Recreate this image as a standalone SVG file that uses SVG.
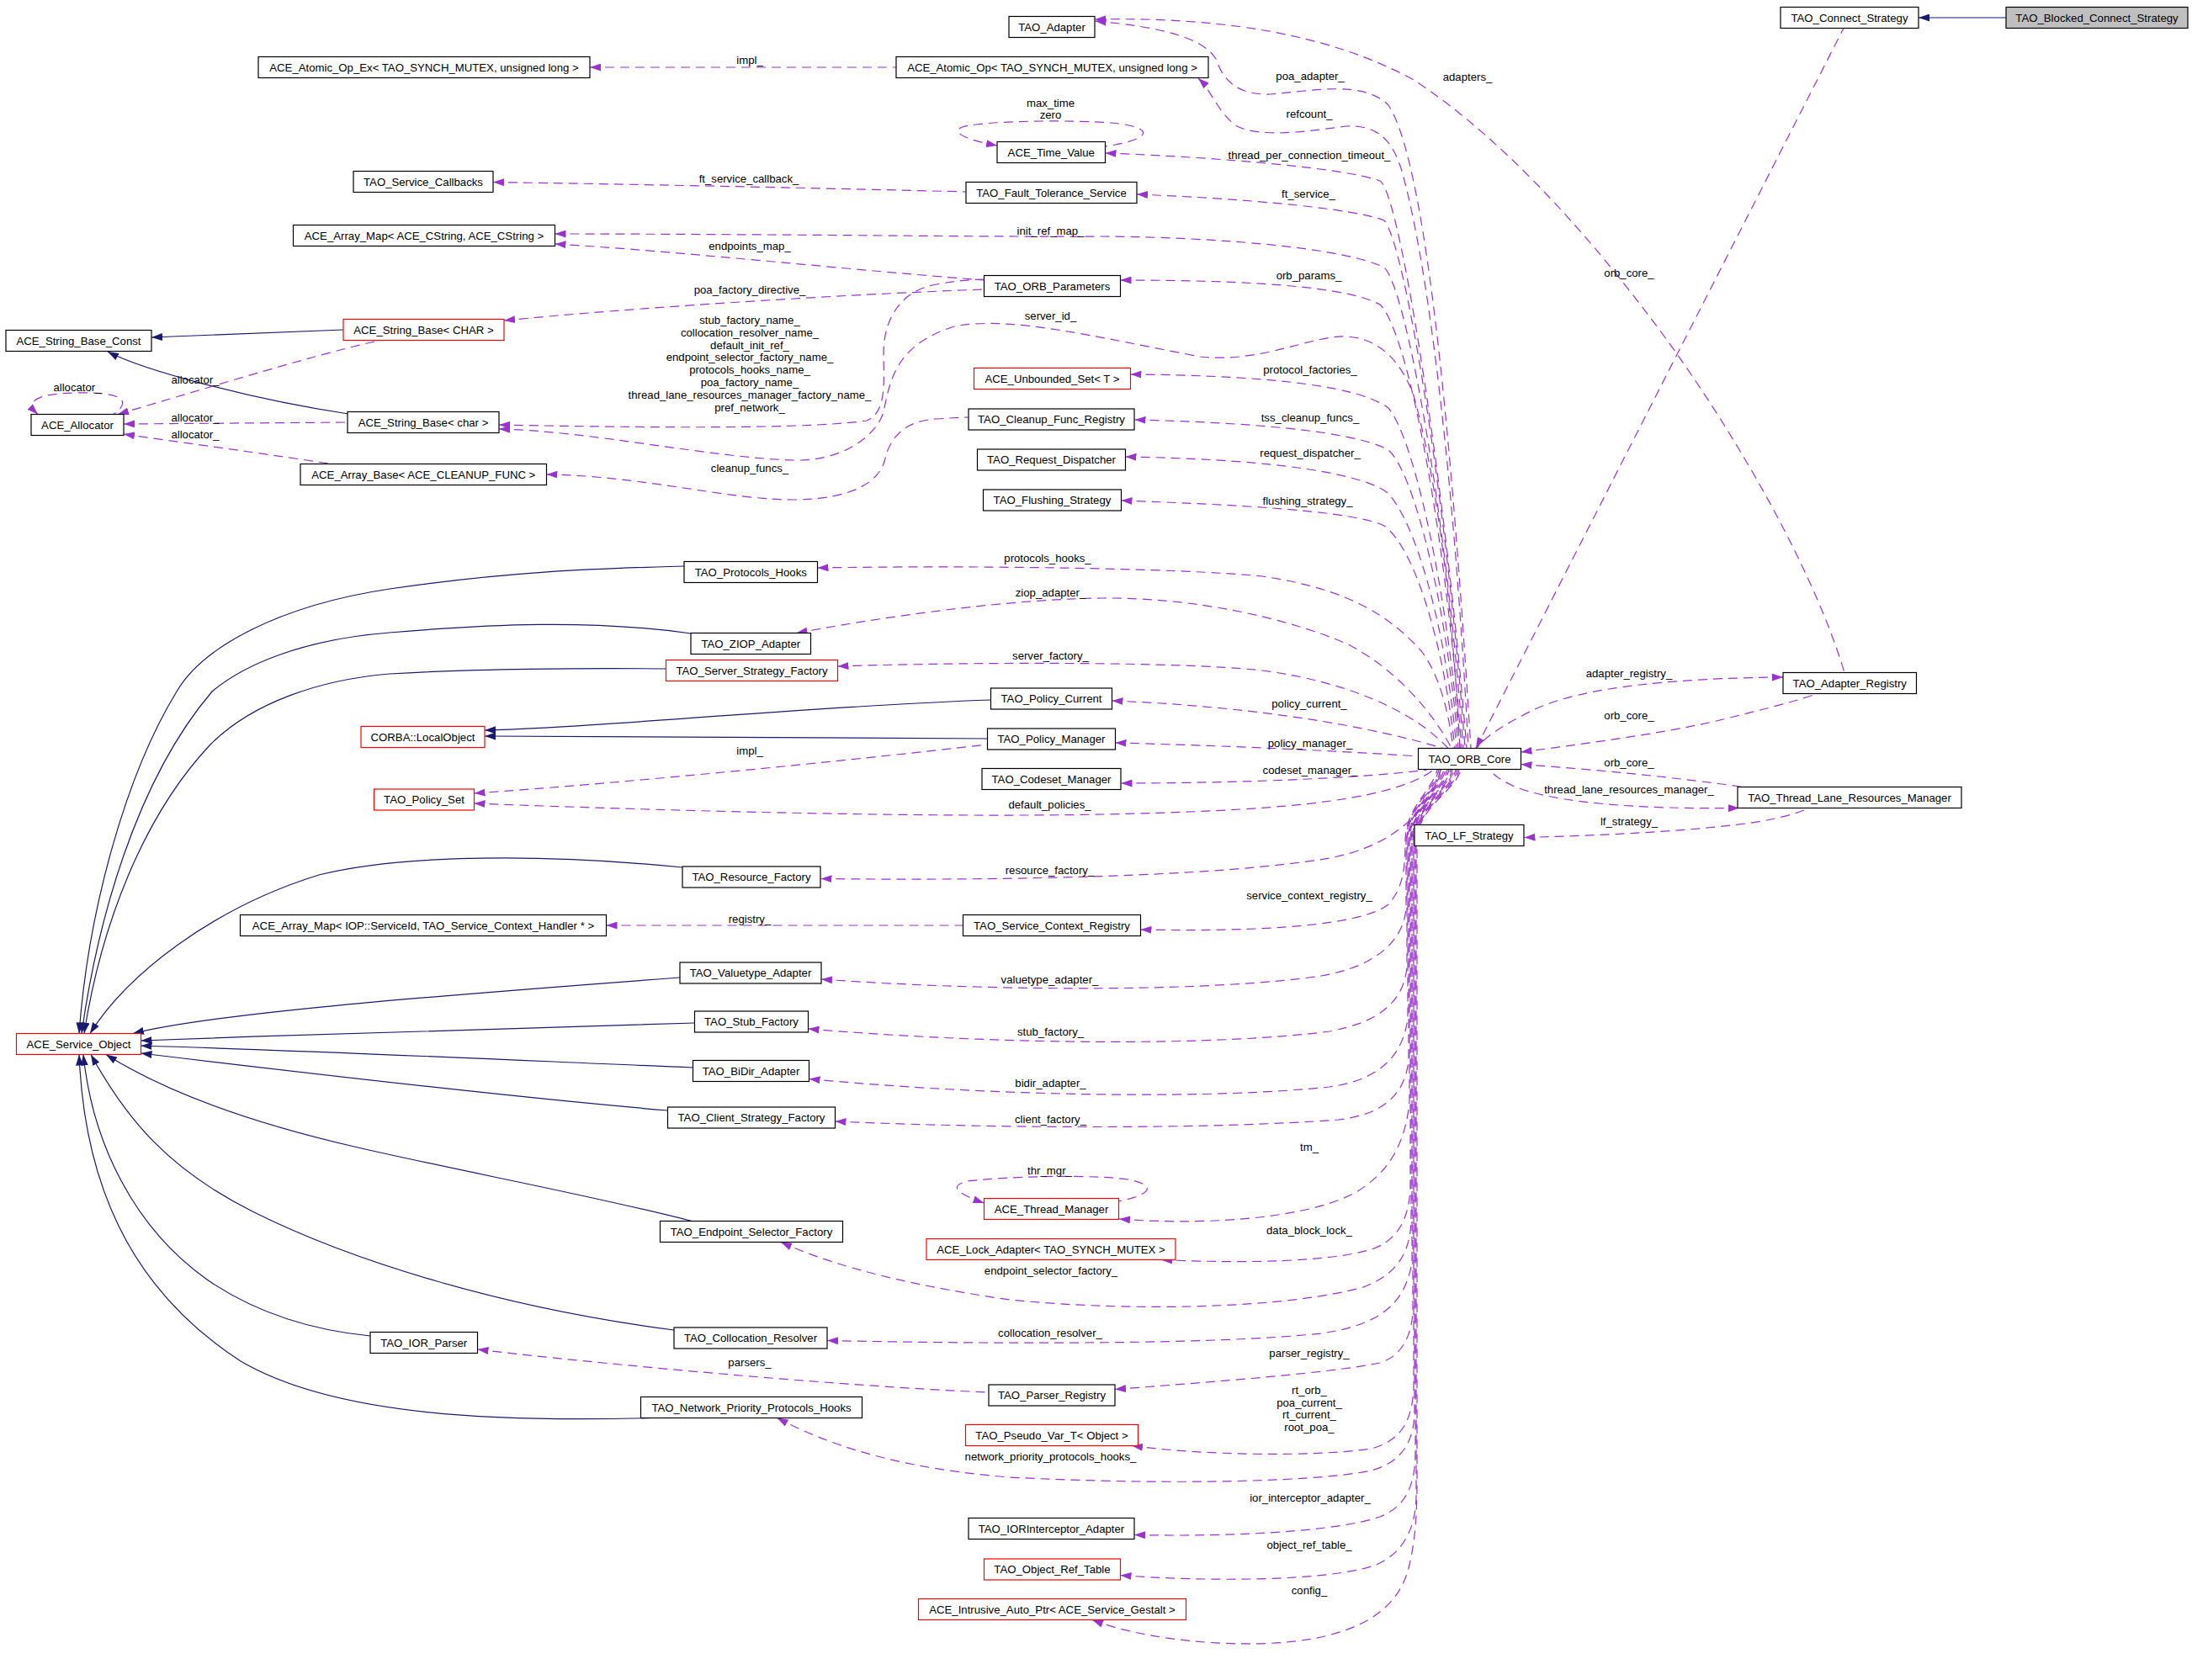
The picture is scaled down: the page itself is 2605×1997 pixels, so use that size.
<svg xmlns="http://www.w3.org/2000/svg" width="2605" height="1997" viewBox="0 0 2605 1997">
<style>
text{font-family:"Liberation Sans",Arial,sans-serif;font-size:13.2px;fill:#000;text-anchor:middle}
.b{fill:#fff;stroke:#000;stroke-width:1.2}
.rd{fill:#fff;stroke:#ff0000;stroke-width:1.2}
.gr{fill:#bfbfbf;stroke:#000;stroke-width:1.2}
.s{fill:none;stroke:#191970;stroke-width:1.2;marker-start:url(#an)}
.d{fill:none;stroke:#9a32cd;stroke-width:1.2;stroke-dasharray:11 7;marker-start:url(#ap)}
</style>
<defs>
<marker id="an" viewBox="0 0 13 9" refX="13" refY="4.5" markerWidth="13" markerHeight="9" markerUnits="userSpaceOnUse" orient="auto-start-reverse"><path d="M0,0 L13,4.5 L0,9 z" fill="#191970"/></marker>
<marker id="ap" viewBox="0 0 13 9" refX="13" refY="4.5" markerWidth="13" markerHeight="9" markerUnits="userSpaceOnUse" orient="auto-start-reverse"><path d="M0,0 L13,4.5 L0,9 z" fill="#9a32cd"/></marker>
</defs>
<rect width="2605" height="1997" fill="#fff"/>
<g id="connectors">
<path class="s" d="M2280,21 L2384,21"/>
<path class="s" d="M180,401 Q300,396 408,392"/>
<path class="s" d="M128,418 C170,440 300,475 414,492"/>
<path class="s" d="M576,868 C700,866 950,840 1177.5,832"/>
<path class="s" d="M576,875 L1173.5,878"/>
<path class="s" d="M94,1228.5 C105,1080 150,920 210,822 C240,770 330,720 463,700 C600,680 700,676 813,673"/>
<path class="s" d="M97,1228.5 C115,1100 160,930 252,822 C290,790 360,760 463,752 C580,742 700,736 821,753"/>
<path class="s" d="M100,1228.5 C120,1100 170,970 250,885 C300,835 380,808 463,801 C560,795 700,794 791.5,795"/>
<path class="s" d="M107,1228.5 C150,1160 250,1080 379,1040 C480,1015 650,1015 811,1031"/>
<path class="s" d="M158,1228.5 C250,1205 500,1185 808,1162"/>
<path class="s" d="M167.5,1237 C400,1228 650,1222 825.5,1216"/>
<path class="s" d="M167.5,1243 C400,1250 650,1262 823.5,1269"/>
<path class="s" d="M167.5,1252 C400,1280 650,1308 793.5,1320"/>
<path class="s" d="M126,1253.5 C200,1300 300,1335 421,1363 C550,1393 700,1420 822,1451.5"/>
<path class="s" d="M108,1253.5 C150,1330 200,1390 300,1440 C420,1500 600,1555 801,1581"/>
<path class="s" d="M99,1253.5 C110,1360 160,1460 246,1521 C310,1565 380,1582 440,1588"/>
<path class="s" d="M94,1253.5 C100,1400 150,1530 286,1618 C400,1685 600,1690 774,1685.5"/>

<path class="d" d="M701,80 L1065,80"/>
<path class="d" d="M586,216.5 C750,219 950,223 1148,228"/>
<path class="d" d="M659.5,290 C800,298 1000,320 1169.5,333"/>
<path class="d" d="M659.5,278 C900,278 1200,282 1310,281 C1450,282 1600,295 1645,318 C1670,340 1718,600 1739,889.5"/>
<path class="d" d="M599,381 C750,366 1000,350 1169.5,344"/>
<path class="d" d="M593,505 C700,507 950,512 1030,500 C1055,490 1050,450 1050,420 C1050,380 1070,345 1113,338 C1140,333 1160,332 1169.5,332"/>
<path class="d" d="M593,510 C700,512 850,545 945,547 C1000,548 1040,520 1050,490 C1058,450 1065,410 1134,388 C1200,375 1300,400 1426,424 C1500,432 1560,398 1600,400 C1640,402 1665,430 1680,470 C1705,560 1725,700 1735,889.5"/>
<path class="d" d="M649.5,564 C760,565 870,595 945,594 C1010,593 1045,575 1052,545 C1058,520 1075,500 1113,498 C1130,497 1140,496 1151,496"/>
<path class="d" d="M140,492.5 C250,460 380,420 452,404.5"/>
<path class="d" d="M147,504 L413,502"/>
<path class="d" d="M147,516 C230,528 320,540 393.5,551.5"/>
<path class="d" d="M45,492.5 C30,478 40,468 90,467 C140,466 160,474 135,492.5"/>
<path class="d" d="M1185,173 C1140,165 1120,152 1160,148 C1200,143 1280,143 1320,146 C1370,150 1375,165 1313.5,174"/>
<path class="d" d="M1301.5,25 C1380,32 1430,45 1445,70 C1455,100 1475,113 1510,112 C1560,108 1620,95 1650,125 C1700,200 1730,600 1748,889.5"/>
<path class="d" d="M1301.5,23 C1450,20 1580,40 1680,95 C1780,160 1880,270 1960,376 C2040,480 2150,660 2192,799.5"/>
<path class="d" d="M1424,93 C1440,108 1448,135 1470,150 C1500,165 1560,155 1600,150 C1640,148 1655,170 1665,200 C1700,320 1730,600 1745,889.5"/>
<path class="d" d="M1313.5,182 C1450,187 1600,200 1640,215 C1665,230 1720,600 1743,889.5"/>
<path class="d" d="M1351,231 C1480,236 1610,248 1645,262 C1670,290 1720,600 1741,889.5"/>
<path class="d" d="M1331.5,333 C1480,333 1600,340 1640,362 C1670,390 1715,600 1737,889.5"/>
<path class="d" d="M1343.5,445 C1480,446 1610,455 1650,485 C1680,520 1720,700 1735,889.5"/>
<path class="d" d="M1348.5,499 C1480,502 1610,512 1650,535 C1680,560 1720,720 1733,889.5"/>
<path class="d" d="M1337.5,543 C1480,545 1610,558 1648,585 C1680,615 1718,740 1731,889.5"/>
<path class="d" d="M1332.5,595 C1480,600 1610,608 1645,625 C1680,650 1715,760 1729,889.5"/>
<path class="d" d="M971.5,675 C1150,672 1400,675 1500,685 C1600,700 1650,730 1690,775 C1712,805 1722,850 1727,889.5"/>
<path class="d" d="M946.5,752.5 C1050,733 1200,712 1310,711 C1420,710 1530,735 1600,765 C1660,795 1705,850 1725,889.5"/>
<path class="d" d="M995.5,792 C1150,787 1400,786 1500,797 C1600,810 1680,845 1721,889.5"/>
<path class="d" d="M1321.5,833 C1450,838 1600,855 1715,889.5"/>
<path class="d" d="M1325.5,883 C1450,886 1600,893 1685.5,899"/>
<path class="d" d="M1332.5,931 C1470,931 1620,925 1696,915"/>
<path class="d" d="M563.5,955 C800,964 1100,972 1310,968 C1500,964 1650,955 1704,915"/>
<path class="d" d="M563.5,943 C750,930 1000,905 1173.5,885"/>
<path class="d" d="M975.5,1044.5 C1200,1047 1450,1042 1580,1020 C1660,1005 1700,960 1712,915"/>
<path class="d" d="M720.5,1100 L1144.5,1100"/>
<path class="d" d="M1355.5,1105 C1500,1108 1620,1100 1650,1075 C1668,1055 1670,1030 1670,1000 C1670,960 1702,940 1708,915"/>
<path class="d" d="M976,1164 C1200,1180 1450,1178 1570,1160 C1640,1148 1668,1115 1671,1080 L1671,1000 C1671,960 1704,940 1710,915"/>
<path class="d" d="M960.5,1223 C1200,1243 1450,1243 1580,1226 C1640,1215 1668,1190 1672,1150 L1672,1000 C1672,960 1706,940 1712,915"/>
<path class="d" d="M961.5,1282.5 C1200,1305 1450,1306 1580,1292 C1645,1283 1668,1250 1673,1210 L1673,1000 C1673,960 1708,940 1714,915"/>
<path class="d" d="M992.5,1333 C1200,1342 1450,1342 1590,1331 C1645,1325 1670,1300 1674,1260 L1674,1000 C1674,960 1710,940 1716,915"/>
<path class="d" d="M1330,1449 C1450,1458 1560,1445 1610,1418 C1650,1395 1670,1360 1675,1310 L1675,1000 C1675,960 1712,940 1718,915"/>
<path class="d" d="M1169.5,1430 C1140,1420 1125,1410 1150,1404 C1200,1398 1300,1396 1340,1402 C1375,1408 1370,1420 1329.5,1428"/>
<path class="d" d="M1380,1497.5 C1480,1502 1580,1500 1630,1485 C1660,1475 1675,1450 1676,1410 L1676,1000 C1676,960 1714,940 1720,915"/>
<path class="d" d="M928,1476.5 C980,1500 1060,1525 1200,1545 C1350,1560 1530,1555 1620,1530 C1660,1515 1676,1490 1677,1450 L1677,1000 C1677,960 1716,940 1722,915"/>
<path class="d" d="M983,1593.5 C1200,1598 1450,1598 1570,1585 C1640,1575 1670,1550 1678,1500 L1678,1000 C1678,960 1718,940 1724,915"/>
<path class="d" d="M567.5,1604 C700,1620 1000,1648 1175,1655"/>
<path class="d" d="M1325,1651.5 C1450,1642 1580,1632 1640,1620 C1665,1612 1677,1590 1679,1560 L1679,1000 C1679,960 1720,940 1726,915"/>
<path class="d" d="M1345,1718.5 C1430,1730 1560,1732 1630,1722 C1665,1712 1678,1690 1680,1650 L1680,1000 C1680,960 1722,940 1728,915"/>
<path class="d" d="M923.5,1685.5 C980,1715 1060,1745 1200,1756 C1350,1764 1550,1764 1630,1748 C1665,1738 1680,1715 1681,1680 L1681,1000 C1681,960 1724,940 1730,915"/>
<path class="d" d="M1348,1824.5 C1470,1827 1590,1820 1640,1803 C1668,1792 1681,1770 1682,1730 L1682,1000 C1682,960 1726,940 1732,915"/>
<path class="d" d="M1331.5,1872.5 C1430,1880 1570,1880 1630,1862 C1665,1850 1682,1820 1683,1780 L1683,1000 C1683,960 1728,940 1734,915"/>
<path class="d" d="M1298,1925.5 C1360,1950 1480,1962 1560,1948 C1630,1935 1665,1905 1675,1860 C1682,1830 1684,1800 1684,1760 L1684,1000 C1684,960 1730,940 1736,915"/>
<path class="d" d="M2119,805 C2000,806 1880,815 1820,845 C1790,860 1765,875 1755,889.5"/>
<path class="d" d="M1807.5,894 C1900,882 2000,868 2060,852 C2100,842 2140,832 2159,824.5"/>
<path class="d" d="M1807.5,908.5 C1900,915 2000,925 2071,935.5"/>
<path class="d" d="M2067,960.5 C1950,962 1850,955 1800,935 C1785,928 1775,922 1771,915"/>
<path class="d" d="M1811.5,995.5 C1950,992 2050,984 2100,975 C2125,970 2140,965 2150,960.5"/>
<path class="d" d="M1754,889.5 L2191,33.5"/>

<text x="891" y="76">impl_</text>
<text x="1557" y="95">poa_adapter_</text>
<text x="1744" y="96">adapters_</text>
<text x="1248.5" y="127">max_time</text>
<text x="1248.5" y="141">zero</text>
<text x="1556" y="140">refcount_</text>
<text x="1556" y="189">thread_per_connection_timeout_</text>
<text x="890" y="217">ft_service_callback_</text>
<text x="1555" y="235">ft_service_</text>
<text x="1248.5" y="279">init_ref_map_</text>
<text x="891" y="297">endpoints_map_</text>
<text x="1555.5" y="332">orb_params_</text>
<text x="1936" y="329">orb_core_</text>
<text x="891" y="349">poa_factory_directive_</text>
<text x="1248.5" y="380">server_id_</text>
<text x="891" y="385"><tspan x="891">stub_factory_name_</tspan><tspan x="891" dy="14.8">collocation_resolver_name_</tspan><tspan x="891" dy="14.8">default_init_ref_</tspan><tspan x="891" dy="14.8">endpoint_selector_factory_name_</tspan><tspan x="891" dy="14.8">protocols_hooks_name_</tspan><tspan x="891" dy="14.8">poa_factory_name_</tspan><tspan x="891" dy="14.8">thread_lane_resources_manager_factory_name_</tspan><tspan x="891" dy="14.8">pref_network_</tspan></text>
<text x="1557" y="444">protocol_factories_</text>
<text x="232" y="456">allocator_</text>
<text x="92" y="465">allocator_</text>
<text x="232" y="501">allocator_</text>
<text x="232" y="521">allocator_</text>
<text x="1557" y="501">tss_cleanup_funcs_</text>
<text x="1557" y="543">request_dispatcher_</text>
<text x="891" y="561">cleanup_funcs_</text>
<text x="1554" y="600">flushing_strategy_</text>
<text x="1245" y="668">protocols_hooks_</text>
<text x="1248.5" y="709">ziop_adapter_</text>
<text x="1248.5" y="784">server_factory_</text>
<text x="1936" y="805">adapter_registry_</text>
<text x="1556" y="841">policy_current_</text>
<text x="1936" y="855">orb_core_</text>
<text x="1557" y="888">policy_manager_</text>
<text x="891" y="897">impl_</text>
<text x="1936" y="911">orb_core_</text>
<text x="1557" y="920">codeset_manager_</text>
<text x="1936" y="943">thread_lane_resources_manager_</text>
<text x="1247.5" y="960.5">default_policies_</text>
<text x="1936" y="981">lf_strategy_</text>
<text x="1247.5" y="1039">resource_factory_</text>
<text x="1556" y="1069">service_context_registry_</text>
<text x="891" y="1096.5">registry_</text>
<text x="1247.5" y="1169">valuetype_adapter_</text>
<text x="1248.5" y="1231">stub_factory_</text>
<text x="1248.5" y="1292">bidir_adapter_</text>
<text x="1248.5" y="1335">client_factory_</text>
<text x="1556" y="1368">tm_</text>
<text x="1247.5" y="1396">thr_mgr_</text>
<text x="1556" y="1467">data_block_lock_</text>
<text x="1249" y="1515">endpoint_selector_factory_</text>
<text x="1248" y="1589">collocation_resolver_</text>
<text x="1556" y="1613">parser_registry_</text>
<text x="891" y="1624">parsers_</text>
<text x="1556" y="1657"><tspan x="1556">rt_orb_</tspan><tspan x="1556" dy="14.7">poa_current_</tspan><tspan x="1556" dy="14.7">rt_current_</tspan><tspan x="1556" dy="14.7">root_poa_</tspan></text>
<text x="1248.5" y="1736">network_priority_protocols_hooks_</text>
<text x="1557" y="1785">ior_interceptor_adapter_</text>
<text x="1556" y="1841">object_ref_table_</text>
<text x="1556" y="1895">config_</text>
</g>

<g id="TAO_Blocked_Connect_Strategy"><rect class="gr" x="2384" y="8.5" width="216" height="25"/><text x="2492" y="25.5">TAO_Blocked_Connect_Strategy</text></g>
<g id="TAO_Connect_Strategy"><rect class="b" x="2116" y="8.5" width="164" height="25"/><text x="2198" y="25.5">TAO_Connect_Strategy</text></g>
<g id="TAO_Adapter"><rect class="b" x="1199" y="19.5" width="102" height="25"/><text x="1250" y="36.5">TAO_Adapter</text></g>
<g id="ACE_Atomic_Op_Ex"><rect class="b" x="307" y="67.5" width="394" height="25"/><text x="504" y="84.5">ACE_Atomic_Op_Ex&lt; TAO_SYNCH_MUTEX, unsigned long &gt;</text></g>
<g id="ACE_Atomic_Op"><rect class="b" x="1065" y="67.5" width="371" height="25"/><text x="1250.5" y="84.5">ACE_Atomic_Op&lt; TAO_SYNCH_MUTEX, unsigned long &gt;</text></g>
<g id="ACE_Time_Value"><rect class="b" x="1185" y="168.5" width="128.5" height="25"/><text x="1249.3" y="185.5">ACE_Time_Value</text></g>
<g id="TAO_Service_Callbacks"><rect class="b" x="420" y="203.5" width="166" height="25"/><text x="503" y="220.5">TAO_Service_Callbacks</text></g>
<g id="TAO_Fault_Tolerance_Service"><rect class="b" x="1148" y="216.5" width="203" height="25"/><text x="1249.5" y="233.5">TAO_Fault_Tolerance_Service</text></g>
<g id="ACE_Array_Map_CString"><rect class="b" x="348.5" y="267.5" width="311" height="25"/><text x="504" y="284.5">ACE_Array_Map&lt; ACE_CString, ACE_CString &gt;</text></g>
<g id="TAO_ORB_Parameters"><rect class="b" x="1169.5" y="327.5" width="162" height="25"/><text x="1250.5" y="344.5">TAO_ORB_Parameters</text></g>
<g id="ACE_String_Base_Const"><rect class="b" x="7" y="392.5" width="173" height="25"/><text x="93.5" y="409.5">ACE_String_Base_Const</text></g>
<g id="ACE_String_Base_CHAR"><rect class="rd" x="408" y="379.5" width="191" height="25"/><text x="503.5" y="396.5">ACE_String_Base&lt; CHAR &gt;</text></g>
<g id="ACE_Unbounded_Set"><rect class="rd" x="1157.5" y="437.5" width="186" height="25"/><text x="1250.5" y="454.5">ACE_Unbounded_Set&lt; T &gt;</text></g>
<g id="ACE_Allocator"><rect class="b" x="37" y="492.5" width="110" height="25"/><text x="92" y="509.5">ACE_Allocator</text></g>
<g id="ACE_String_Base_char"><rect class="b" x="413" y="489.5" width="180" height="25"/><text x="503" y="506.5">ACE_String_Base&lt; char &gt;</text></g>
<g id="TAO_Cleanup_Func_Registry"><rect class="b" x="1151" y="486" width="197" height="25"/><text x="1249.5" y="503">TAO_Cleanup_Func_Registry</text></g>
<g id="ACE_Array_Base"><rect class="b" x="357" y="551.5" width="292.5" height="25"/><text x="503.3" y="568.5">ACE_Array_Base&lt; ACE_CLEANUP_FUNC &gt;</text></g>
<g id="TAO_Request_Dispatcher"><rect class="b" x="1161.5" y="534" width="176" height="25"/><text x="1249.5" y="551">TAO_Request_Dispatcher</text></g>
<g id="TAO_Flushing_Strategy"><rect class="b" x="1168.5" y="582" width="164" height="25"/><text x="1250.5" y="599">TAO_Flushing_Strategy</text></g>
<g id="TAO_Protocols_Hooks"><rect class="b" x="813" y="667.5" width="158.5" height="25"/><text x="892.3" y="684.5">TAO_Protocols_Hooks</text></g>
<g id="TAO_ZIOP_Adapter"><rect class="b" x="821" y="752.5" width="142.5" height="25"/><text x="892.3" y="769.5">TAO_ZIOP_Adapter</text></g>
<g id="TAO_Server_Strategy_Factory"><rect class="rd" x="791.5" y="784.5" width="204" height="25"/><text x="893.5" y="801.5">TAO_Server_Strategy_Factory</text></g>
<g id="TAO_Policy_Current"><rect class="b" x="1177.5" y="818" width="144" height="25"/><text x="1249.5" y="835">TAO_Policy_Current</text></g>
<g id="CORBA_LocalObject"><rect class="rd" x="429" y="863.5" width="147" height="25"/><text x="502.5" y="880.5">CORBA::LocalObject</text></g>
<g id="TAO_Policy_Manager"><rect class="b" x="1173.5" y="866" width="152" height="25"/><text x="1249.5" y="883">TAO_Policy_Manager</text></g>
<g id="TAO_Codeset_Manager"><rect class="b" x="1167" y="913.5" width="165" height="25"/><text x="1249.5" y="930.5">TAO_Codeset_Manager</text></g>
<g id="TAO_Policy_Set"><rect class="rd" x="444.5" y="938" width="119" height="25"/><text x="504" y="955">TAO_Policy_Set</text></g>
<g id="TAO_ORB_Core"><rect class="b" x="1685.5" y="889.5" width="122" height="25"/><text x="1746.5" y="906.5">TAO_ORB_Core</text></g>
<g id="TAO_Adapter_Registry"><rect class="b" x="2119" y="799.5" width="158.5" height="25"/><text x="2198.3" y="816.5">TAO_Adapter_Registry</text></g>
<g id="TAO_Thread_Lane_Resources_Manager"><rect class="b" x="2065" y="935.5" width="266" height="25"/><text x="2198" y="952.5">TAO_Thread_Lane_Resources_Manager</text></g>
<g id="TAO_LF_Strategy"><rect class="b" x="1681" y="980.5" width="130" height="25"/><text x="1746" y="997.5">TAO_LF_Strategy</text></g>
<g id="TAO_Resource_Factory"><rect class="b" x="811" y="1030" width="164" height="25"/><text x="893" y="1047">TAO_Resource_Factory</text></g>
<g id="ACE_Array_Map_IOP"><rect class="b" x="285.5" y="1087.5" width="435" height="25"/><text x="503" y="1104.5">ACE_Array_Map&lt; IOP::ServiceId, TAO_Service_Context_Handler * &gt;</text></g>
<g id="TAO_Service_Context_Registry"><rect class="b" x="1144.5" y="1087.5" width="211" height="25"/><text x="1250" y="1104.5">TAO_Service_Context_Registry</text></g>
<g id="TAO_Valuetype_Adapter"><rect class="b" x="808" y="1144" width="168" height="25"/><text x="892" y="1161">TAO_Valuetype_Adapter</text></g>
<g id="ACE_Service_Object"><rect class="rd" x="19.5" y="1228.5" width="148" height="25"/><text x="93.5" y="1245.5">ACE_Service_Object</text></g>
<g id="TAO_Stub_Factory"><rect class="b" x="825.5" y="1202" width="135" height="25"/><text x="893" y="1219">TAO_Stub_Factory</text></g>
<g id="TAO_BiDir_Adapter"><rect class="b" x="823.5" y="1260.5" width="138" height="25"/><text x="892.5" y="1277.5">TAO_BiDir_Adapter</text></g>
<g id="TAO_Client_Strategy_Factory"><rect class="b" x="793.5" y="1316" width="199" height="25"/><text x="893" y="1333">TAO_Client_Strategy_Factory</text></g>
<g id="ACE_Thread_Manager"><rect class="rd" x="1169.5" y="1424.5" width="160" height="25"/><text x="1249.5" y="1441.5">ACE_Thread_Manager</text></g>
<g id="TAO_Endpoint_Selector_Factory"><rect class="b" x="784.5" y="1451.5" width="217" height="25"/><text x="893" y="1468.5">TAO_Endpoint_Selector_Factory</text></g>
<g id="ACE_Lock_Adapter"><rect class="rd" x="1101" y="1472.5" width="296" height="25"/><text x="1249" y="1489.5">ACE_Lock_Adapter&lt; TAO_SYNCH_MUTEX &gt;</text></g>
<g id="TAO_Collocation_Resolver"><rect class="b" x="801" y="1578" width="182" height="25"/><text x="892" y="1595">TAO_Collocation_Resolver</text></g>
<g id="TAO_IOR_Parser"><rect class="b" x="440" y="1583.5" width="127.5" height="25"/><text x="503.7" y="1600.5">TAO_IOR_Parser</text></g>
<g id="TAO_Parser_Registry"><rect class="b" x="1175" y="1646" width="150" height="25"/><text x="1250" y="1663">TAO_Parser_Registry</text></g>
<g id="TAO_Network_Priority_Protocols_Hooks"><rect class="b" x="761.5" y="1660.5" width="263" height="25"/><text x="893" y="1677.5">TAO_Network_Priority_Protocols_Hooks</text></g>
<g id="TAO_Pseudo_Var_T"><rect class="rd" x="1147.5" y="1693.5" width="205" height="25"/><text x="1250" y="1710.5">TAO_Pseudo_Var_T&lt; Object &gt;</text></g>
<g id="TAO_IORInterceptor_Adapter"><rect class="b" x="1151" y="1804.5" width="197" height="25"/><text x="1249.5" y="1821.5">TAO_IORInterceptor_Adapter</text></g>
<g id="TAO_Object_Ref_Table"><rect class="rd" x="1169.5" y="1853" width="162" height="25"/><text x="1250.5" y="1870">TAO_Object_Ref_Table</text></g>
<g id="ACE_Intrusive_Auto_Ptr"><rect class="rd" x="1091.5" y="1900.5" width="318" height="25"/><text x="1250.5" y="1917.5">ACE_Intrusive_Auto_Ptr&lt; ACE_Service_Gestalt &gt;</text></g>
</svg>
